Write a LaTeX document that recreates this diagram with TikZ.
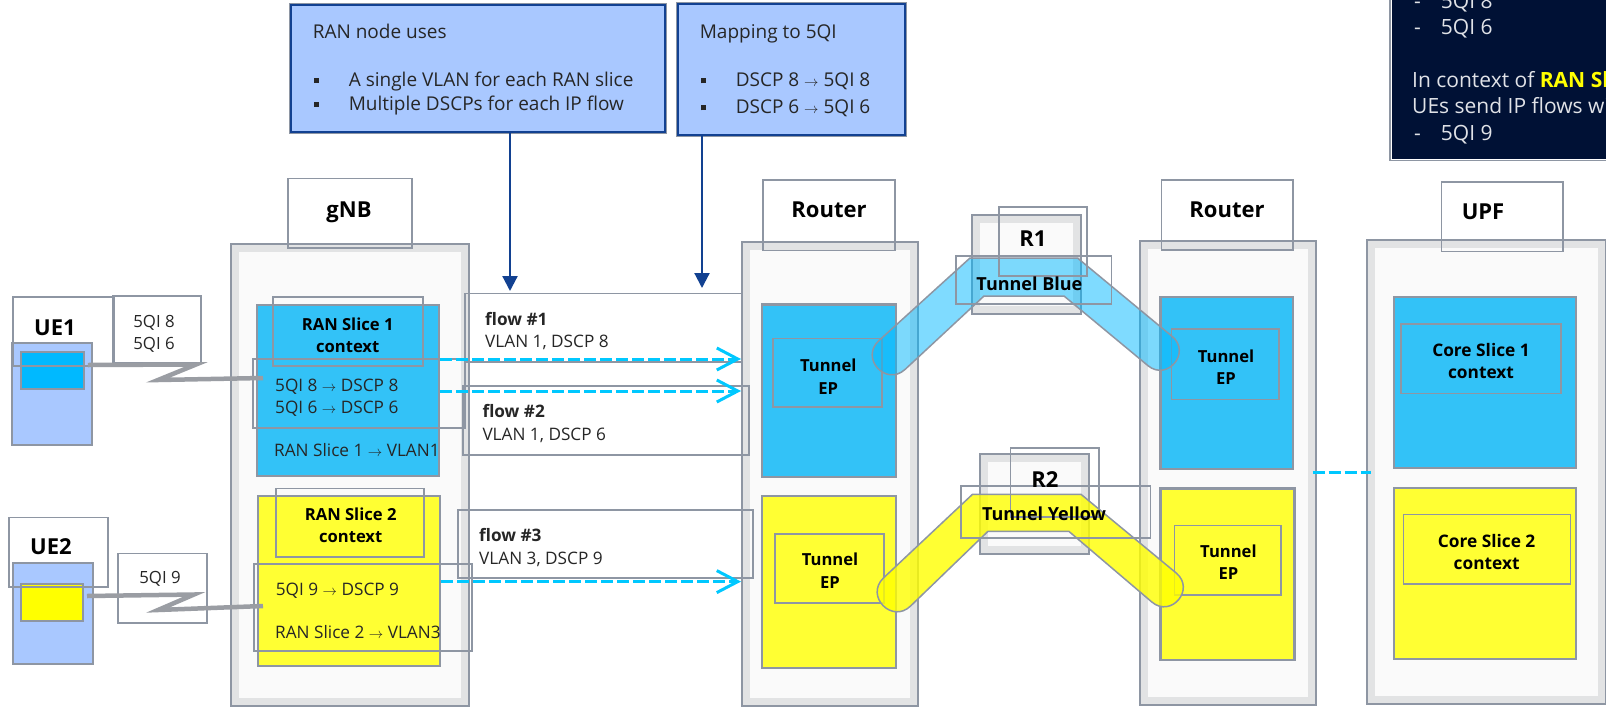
\documentclass[tikz,border=0pt]{standalone}
\usepackage{fontspec}
\setmainfont{Open Sans}
\usetikzlibrary{arrows.meta}
\definecolor{frameg}{HTML}{8E96A3}
\definecolor{bandg}{HTML}{E2E3E4}
\definecolor{paleg}{HTML}{FAFAFA}
\definecolor{sliceb}{HTML}{33C2F7}
\definecolor{slicey}{HTML}{FFFF33}
\definecolor{uein}{HTML}{00B9FF}
\definecolor{pureyel}{HTML}{FFFF00}
\definecolor{ueblue}{HTML}{A9C8FF}
\definecolor{notedk}{HTML}{124191}
\definecolor{navybg}{HTML}{001135}
\definecolor{flowc}{HTML}{00C8FF}
\definecolor{inktxt}{HTML}{262626}
\definecolor{radiog}{HTML}{9A9DA3}
\newcommand{\arw}{{\fontsize{14}{14}\selectfont$\rightarrow$}}
\newcommand{\sqb}{\makebox[36pt][l]{\hspace{1.5pt}\raisebox{3.5pt}{\rule{5pt}{5pt}}}}
\newcommand{\dsh}{\makebox[28.7pt][l]{\hspace{2pt}-}}
\begin{document}
\begin{tikzpicture}[x=1pt,y=-1pt,inner sep=0pt,
  lbl/.style={draw=frameg,line width=1.5pt},
  outerbox/.style={draw=frameg,line width=2pt,fill=bandg,path picture={\fill[paleg] ([xshift=8pt,yshift=-8pt]path picture bounding box.north west) rectangle ([xshift=-8pt,yshift=8pt]path picture bounding box.south east);}},
  bluebox/.style={draw=frameg,line width=2.6pt,fill=sliceb},
  yellowbox/.style={draw=frameg,line width=2.6pt,fill=slicey},
  uebox/.style={draw=frameg,line width=2pt,fill=ueblue},
  note/.style={draw=notedk,line width=2pt,fill=ueblue,preaction={draw=frameg,line width=4pt}},
  txt/.style={font=\fontsize{16.8}{22.3}\selectfont,text=inktxt,align=center},
  ltxt/.style={font=\fontsize{17.2}{22.3}\selectfont,text=inktxt,align=left,anchor=west},
  btxt/.style={font=\fontsize{16.6}{22.3}\selectfont\bfseries,text=black,align=center},
  bigbtxt/.style={font=\fontsize{18}{22.3}\selectfont\bfseries,text=black,align=center},
  corebtxt/.style={font=\fontsize{17.3}{22.3}\selectfont\bfseries,text=black,align=center},
  htxt/.style={font=\fontsize{22}{24}\selectfont\bfseries,text=black},
  notetxt/.style={font=\fontsize{19}{24}\selectfont,text=inktxt,align=left,anchor=west},
  flowline/.style={draw=flowc,line width=3pt,dash pattern=on 12pt off 4pt,-{Straight Barb[length=21pt,width=22pt,line width=3pt]}},
  noteline/.style={draw=notedk,line width=2.2pt,-{Triangle[length=15pt,width=15pt]}},
  radio/.style={draw=radiog,line width=4.5pt,miter limit=10}]
\useasboundingbox (0,0) rectangle (1606,707);
\clip (0,0) rectangle (1606,707);
\fill[white] (0,0) rectangle (1606,707);
% big boxes
\node[outerbox,minimum width=238pt,minimum height=462pt] (gnb) at (350,475){};
\node[outerbox,minimum width=176pt,minimum height=464pt] (rout1) at (830,474){};
\node[outerbox,minimum width=175.5pt,minimum height=464.5pt] (rout2) at (1227.75,472.75){};
\node[outerbox,minimum width=239pt,minimum height=464.5pt] (upf) at (1486.4,471.75){};
\node[outerbox,minimum width=109.4pt,minimum height=99.5pt] (r1) at (1026.7,264.25){};
\node[outerbox,minimum width=109pt,minimum height=100pt] (r2) at (1034.5,504){};
% slices
\node[bluebox,minimum width=182pt,minimum height=171pt] (gnbs1) at (348,390.5){};
\node[yellowbox,minimum width=182pt,minimum height=170pt] (gnbs2) at (349,581){};
\node[bluebox,minimum width=134pt,minimum height=172.4pt] (rt1b) at (829,390.8){};
\node[yellowbox,minimum width=134pt,minimum height=172pt] (rt1y) at (829,582){};
\node[bluebox,minimum width=132.4pt,minimum height=172pt] (rt2b) at (1226.8,383){};
\node[yellowbox,minimum width=134pt,minimum height=171.5pt] (rt2y) at (1227.5,574.25){};
\node[bluebox,minimum width=182pt,minimum height=171pt] (upfb) at (1485,382.5){};
\node[yellowbox,minimum width=182pt,minimum height=171pt] (upfy) at (1485,573.5){};
% UEs
\node[uebox,minimum width=80pt,minimum height=102pt] (ue1) at (52,394){};
\node[uebox,minimum width=80pt,minimum height=101pt] (ue2) at (53,613.5){};
\node[draw=frameg,line width=2pt,fill=uein,minimum width=63pt,minimum height=36.5pt] (ue1in) at (52.5,370.25){};
\node[draw=frameg,line width=2pt,fill=pureyel,minimum width=62pt,minimum height=37pt] (ue2in) at (52,602.5){};
% tunnel endpoints
\node[lbl,minimum width=109pt,minimum height=68.5pt] (ep1) at (827.5,372.75){};
\node[lbl,minimum width=109pt,minimum height=69pt] (ep2) at (829.5,568.5){};
\node[lbl,minimum width=107.5pt,minimum height=70.5pt] (ep3) at (1225.25,364.25){};
\node[lbl,minimum width=106.4pt,minimum height=69.5pt] (ep4) at (1227.8,560.25){};
% tunnels
\fill[fill=uein,fill opacity=.5,draw=frameg,draw opacity=1,line width=1.5pt] (878.9,340.6) -- (970,258) -- (1077.5,258) -- (1172,336.3) .. controls (1191.6,352.2) and (1167.6,381.6) .. (1148,365.7) -- (1064,296) -- (984,296) -- (905.1,369.4) .. controls (885.9,386.9) and (859.7,358.1) .. (878.9,340.6) -- cycle;
\fill[fill=pureyel,fill opacity=.8,draw=frameg,draw opacity=1,line width=1.5pt] (883.3,578.1) -- (972.5,494.3) -- (1081,494.3) -- (1176.2,573) .. controls (1195.6,589.3) and (1171.2,618.3) .. (1151.8,602) -- (1068.8,531.3) -- (988,531.3) -- (910.7,605.9) .. controls (892.2,624.1) and (864.8,596.3) .. (883.3,578.1) -- cycle;
% notes on top
\node[note,minimum width=374pt,minimum height=127pt] (ranuses) at (478,68.5){};
\node[note,minimum width=227pt,minimum height=131pt] (mapnote) at (791.5,69.5){};
\node[draw=white,line width=1pt,fill=navybg,preaction={draw=frameg,line width=4pt},minimum width=318pt,minimum height=180pt] (ctxnote) at (1550,69){};
\node[notetxt] (ranusestxt) at (312.6,69.5){RAN node uses\\[0pt]~\\\sqb A single VLAN for each RAN slice\\\sqb Multiple DSCPs for each IP flow};
\node[notetxt] (mapnotetxt) at (699.6,71){Mapping to 5QI\\~\\\sqb DSCP 8 \arw{} 5QI 8\\[3pt]\sqb DSCP 6 \arw{} 5QI 6};
\node[font=\fontsize{21}{26.4}\selectfont,text=white!88!navybg,align=left,anchor=south west] (ctxtxt) at (1412,144){\dsh 5QI 8\\\dsh 5QI 6\\~\\In context of {\bfseries\color{pureyel}RAN Sl}\\UEs send IP flows wi\\\dsh 5QI 9};
% frames of the labels
\node[lbl,minimum width=124pt,minimum height=69.4pt] (gnblbl) at (350,213.3){};
\node[lbl,minimum width=132pt,minimum height=70.5pt] (rout1lbl) at (829,215.25){};
\node[lbl,minimum width=131.5pt,minimum height=70pt] (rout2lbl) at (1227.25,215){};
\node[lbl,minimum width=121.5pt,minimum height=69.5pt] (upflbl) at (1502.25,216.75){};
\node[lbl,minimum width=88pt,minimum height=69pt] (r1lbl) at (1043,241.5){};
\node[lbl,minimum width=88.5pt,minimum height=69pt] (r2lbl) at (1054.75,482.5){};
\node[lbl,minimum width=155.6pt,minimum height=48pt] (tblue) at (1033.8,280){};
\node[lbl,minimum width=189.6pt,minimum height=52pt] (tyellow) at (1055.8,512){};
\node[lbl,minimum width=101pt,minimum height=69pt] (ue1lbl) at (63.5,331.5){};
\node[lbl,minimum width=99pt,minimum height=69.4pt] (ue2lbl) at (58.5,552.3){};
\node[lbl,minimum width=88pt,minimum height=67pt] (q1lbl) at (157,329.5){};
\node[lbl,minimum width=89pt,minimum height=69.5pt] (q2lbl) at (162.5,588.25){};
\node[lbl,minimum width=150pt,minimum height=69pt] (s1lbl) at (348,331.5){};
\node[lbl,minimum width=148pt,minimum height=68.5pt] (s2lbl) at (350,522.75){};
\node[lbl,minimum width=212pt,minimum height=69pt] (m1lbl) at (359,393.5){};
\node[lbl,minimum width=218pt,minimum height=87pt] (m2lbl) at (363,607.5){};
\node[lbl,minimum width=277pt,minimum height=68.4pt] (f1lbl) at (603.5,327.8){};
\node[lbl,minimum width=286pt,minimum height=69pt] (f2lbl) at (606,420.5){};
\node[lbl,minimum width=295pt,minimum height=68pt] (f3lbl) at (605.5,544){};
\node[lbl,minimum width=160pt,minimum height=69.6pt] (c1lbl) at (1481,358.8){};
\node[lbl,minimum width=167.2pt,minimum height=69.5pt] (c2lbl) at (1487,549.25){};
% radio links
\coordinate (z1a) at (196,364.5);
\coordinate (z1b) at (158,380);
\coordinate (z2a) at (194,594.5);
\coordinate (z2b) at (158,610);
\coordinate (z1s) at (88,365);
\coordinate (z2s) at (87,596);
\coordinate (z1e) at (263,378);
\coordinate (z2e) at (263,606);
\draw[radio] (z1s) -- (z1a) -- (z1b) -- (z1e);
\draw[radio] (z2s) -- (z2a) -- (z2b) -- (z2e);
% flows
\coordinate (fl1) at (600,359);
\coordinate (fl2) at (600,391);
\coordinate (fl3) at (600,581.6);
\coordinate (fl4) at (1340,472.7);
\draw[flowline] (gnbs1.east |- fl1) -- (rout1.west |- fl1);
\draw[flowline] (gnbs1.east |- fl2) -- (rout1.west |- fl2);
\draw[flowline] (gnbs2.east |- fl3) -- (rout1.west |- fl3);
\draw[draw=flowc,line width=3pt,dash pattern=on 12pt off 4pt,shorten <=-4pt,shorten >=-5pt] (rout2.east |- fl4) -- (upf.west |- fl4);
% callouts
\coordinate (nt1) at (510,291);
\coordinate (nt2) at (702,288);
\draw[noteline] (ranuses.south -| nt1) -- (nt1);
\draw[noteline] (mapnote.south -| nt2) -- (nt2);
% texts
\node[htxt] (gnbtxt) at (349,212){gNB};
\node[htxt] (rout1txt) at (829,210){Router};
\node[htxt] (rout2txt) at (1227,210){Router};
\node[htxt] (upftxt) at (1483,212){UPF};
\node[htxt] (r1txt) at (1033,238.4){R1};
\node[htxt] (r2txt) at (1045,479.2){R2};
\node[htxt] (ue1txt) at (55,327.5){UE1};
\node[htxt] (ue2txt) at (51,546.7){UE2};
\node[txt] (q1txt) at (154,334){5QI 8\\5QI 6};
\node[txt] (q2txt) at (160,578.6){5QI 9};
\node[btxt] (s1txt) at (347.7,335){RAN Slice 1\\context};
\node[btxt] (s2txt) at (350.7,525.5){RAN Slice 2\\context};
\node[ltxt] (m1txt) at (275,398){5QI 8 \arw{} DSCP 8\\5QI 6 \arw{} DSCP 6};
\node[ltxt] (v1txt) at (274,450){RAN Slice 1 \arw{} VLAN1};
\node[ltxt] (m2txt) at (275.7,591){5QI 9 \arw{} DSCP 9};
\node[ltxt] (v2txt) at (275,632){RAN Slice 2 \arw{} VLAN3};
\node[ltxt] (f1txt) at (485,331){\textbf{flow \#1}\\VLAN 1, DSCP 8};
\node[ltxt] (f2txt) at (482.3,423.5){\textbf{flow \#2}\\VLAN 1, DSCP 6};
\node[ltxt] (f3txt) at (479,547.5){\textbf{flow \#3}\\VLAN 3, DSCP 9};
\node[btxt] (ep1txt) at (828.3,376.6){Tunnel\\EP};
\node[btxt] (ep2txt) at (830,570.7){Tunnel\\EP};
\node[btxt] (ep3txt) at (1226,367.5){Tunnel\\EP};
\node[btxt] (ep4txt) at (1228.4,562){Tunnel\\EP};
\node[bigbtxt] (tbluetxt) at (1029.4,283.4){Tunnel Blue};
\node[bigbtxt] (tyellowtxt) at (1044,513.5){Tunnel Yellow};
\node[corebtxt] (c1txt) at (1481,361){Core Slice 1\\context};
\node[corebtxt] (c2txt) at (1486.6,552){Core Slice 2\\context};
\end{tikzpicture}
\end{document}
